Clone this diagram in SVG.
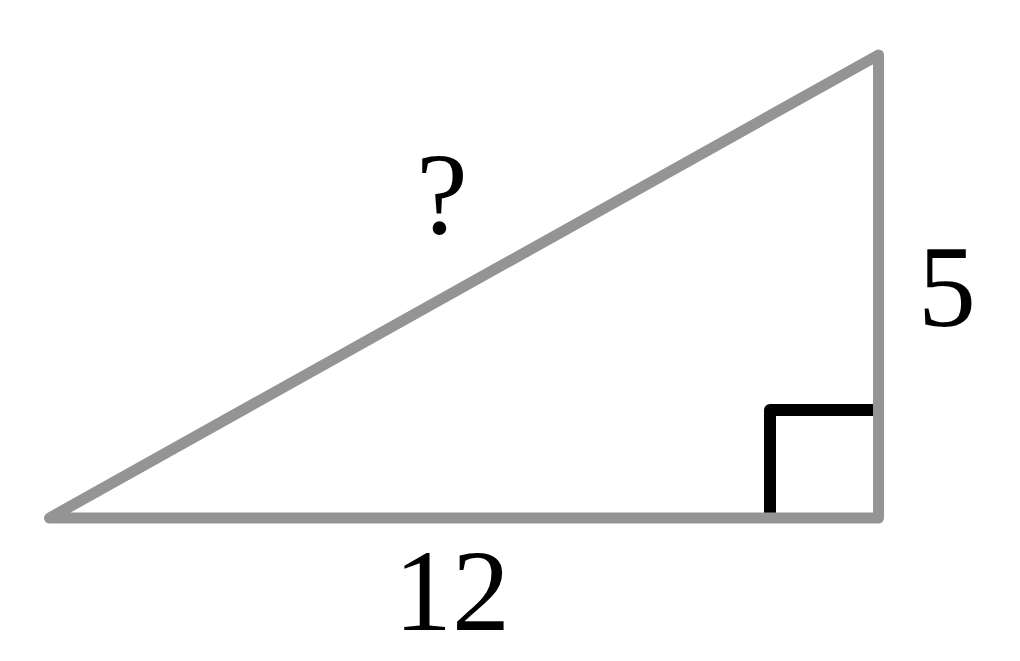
<svg xmlns="http://www.w3.org/2000/svg" width="1020" height="661" viewBox="0 0 1020 661">
<style>
.lbl{font-family:"Liberation Serif","DejaVu Serif",serif;font-size:116px;fill:#000;text-anchor:middle}
.tri{fill:none;stroke:#949494;stroke-width:11;stroke-linejoin:round;stroke-linecap:round}
.ra{fill:none;stroke:#000;stroke-width:12;stroke-linejoin:round}
</style>
<rect width="1020" height="661" fill="#fff"/>
<g id="right-angle"><path class="ra" d="M770,514 V410 H874"/></g>
<g id="triangle"><polygon class="tri" points="49.5,518 878.5,518 878.5,55"/></g>
<g id="labels">
<text class="lbl" x="442" y="233">?</text>
<text class="lbl" x="947" y="326">5</text>
<text class="lbl" x="452" y="630">12</text>
</g>
</svg>
